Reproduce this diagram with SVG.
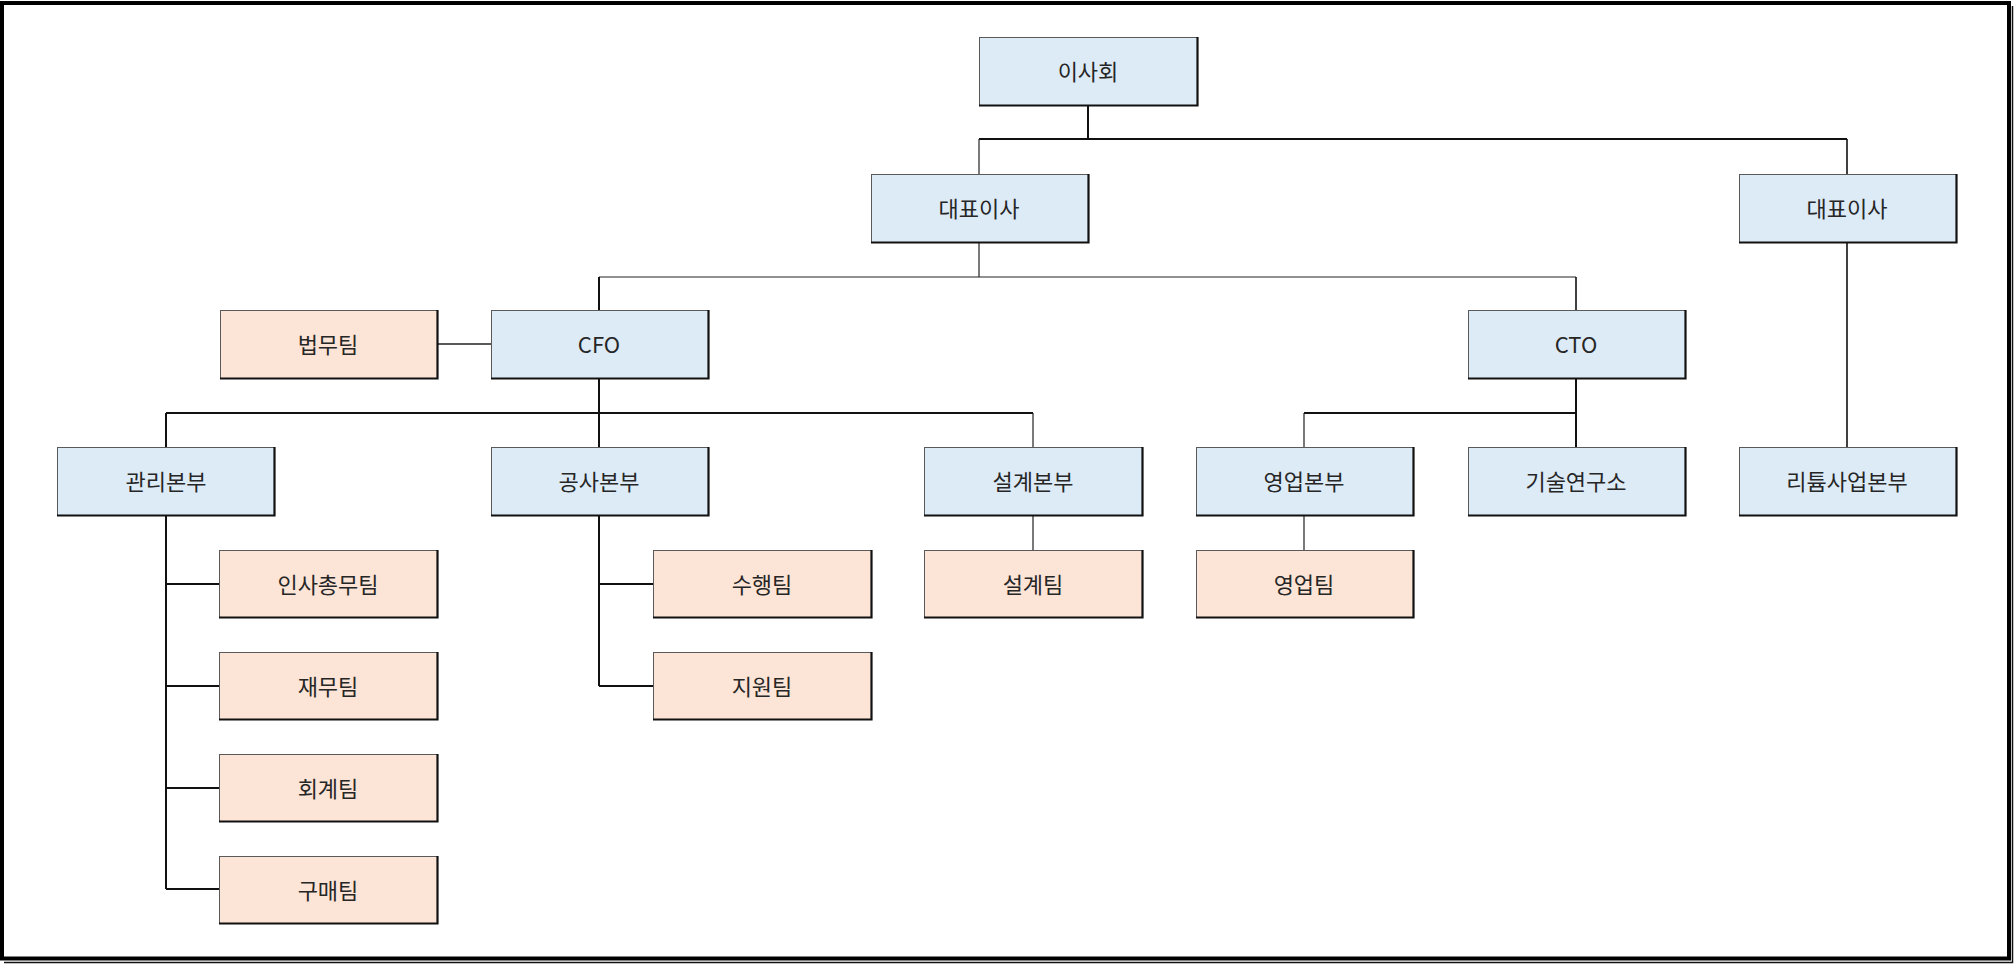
<svg xmlns="http://www.w3.org/2000/svg" width="2014" height="964" viewBox="0 0 2014 964">
  <defs>
    <style>
      .box { stroke: #5a5a5a; stroke-width: 1; }
      .blue { fill: #DDEBF7; }
      .peach { fill: #FCE4D6; }
      .shadow { fill: none; stroke: #111; stroke-width: 2.2; }
      .lbl { font-family: "Noto Sans CJK KR", "Noto Sans", "Liberation Sans", sans-serif; font-size: 22px; fill: #262626; text-anchor: middle; dominant-baseline: central; }
      .c { fill: none; stroke: #111; stroke-width: 2; }
      .t { fill: none; stroke: #222; stroke-width: 1.2; }
    </style>
  </defs>
  <rect x="0" y="0" width="2014" height="964" fill="#ffffff"/>
  <rect x="2" y="3" width="2007" height="955.5" fill="none" stroke="#000" stroke-width="4"/>
  <path d="M4 962.5 H2012.5 V6" fill="none" stroke="#111" stroke-width="1.5"/>

  <g id="connectors">
    <path class="c" d="M1088 106 V139 M979 139 H1847"/>
    <path class="t" d="M979 139 V174"/>
    <path class="c" style="stroke-width:1.6" d="M1847 139 V174"/>
    <path class="t" d="M979 242 V277 M599 277 H1576"/>
    <path class="c" d="M599 277 V310"/>
    <path class="c" style="stroke-width:1.6" d="M1576 277 V310"/>
    <path class="t" style="stroke-width:1.4" d="M437 344 H491"/>
    <path class="c" d="M599 379 V413 M166 413 H1033 M166 413 V447 M599 413 V447"/>
    <path class="t" d="M1033 413 V447"/>
    <path class="c" d="M1576 379 V447 M1304 413 H1576"/>
    <path class="t" d="M1304 413 V447 M1304 515 V550 M1033 515 V550"/>
    <path class="c" style="stroke-width:1.6" d="M1847 242 V447"/>
    <path class="c" d="M166 515 V889 M166 584 H219 M166 686 H219 M166 788 H219 M166 889 H219"/>
    <path class="c" d="M599 515 V686 M599 584 H653 M599 686 H653"/>
  </g>

  <g id="n-board">
    <rect class="box blue" x="979.5" y="37.5" width="218" height="68"/>
    <path class="shadow" d="M1197.5 37 V105.5 H979"/>
    <text class="lbl" x="1088" y="69.5">이사회</text>
  </g>
  <g id="n-ceo1">
    <rect class="box blue" x="871.5" y="174.5" width="217" height="68"/>
    <path class="shadow" d="M1088.5 174 V242.5 H871"/>
    <text class="lbl" x="979" y="206.5">대표이사</text>
  </g>
  <g id="n-ceo2">
    <rect class="box blue" x="1739.5" y="174.5" width="217" height="68"/>
    <path class="shadow" d="M1956.5 174 V242.5 H1739"/>
    <text class="lbl" x="1847" y="206.5">대표이사</text>
  </g>
  <g id="n-legal">
    <rect class="box peach" x="220.5" y="310.5" width="217" height="68"/>
    <path class="shadow" d="M437.5 310 V378.5 H220"/>
    <text class="lbl" x="328" y="342.5">법무팀</text>
  </g>
  <g id="n-cfo">
    <rect class="box blue" x="491.5" y="310.5" width="217" height="68"/>
    <path class="shadow" d="M708.5 310 V378.5 H491"/>
    <text class="lbl" x="599" y="342.5">CFO</text>
  </g>
  <g id="n-cto">
    <rect class="box blue" x="1468.5" y="310.5" width="217" height="68"/>
    <path class="shadow" d="M1685.5 310 V378.5 H1468"/>
    <text class="lbl" x="1576" y="342.5">CTO</text>
  </g>
  <g id="n-mgmt">
    <rect class="box blue" x="57.5" y="447.5" width="217" height="68"/>
    <path class="shadow" d="M274.5 447 V515.5 H57"/>
    <text class="lbl" x="166" y="479.5">관리본부</text>
  </g>
  <g id="n-const">
    <rect class="box blue" x="491.5" y="447.5" width="217" height="68"/>
    <path class="shadow" d="M708.5 447 V515.5 H491"/>
    <text class="lbl" x="599" y="479.5">공사본부</text>
  </g>
  <g id="n-design">
    <rect class="box blue" x="924.5" y="447.5" width="218" height="68"/>
    <path class="shadow" d="M1142.5 447 V515.5 H924"/>
    <text class="lbl" x="1033" y="479.5">설계본부</text>
  </g>
  <g id="n-sales">
    <rect class="box blue" x="1196.5" y="447.5" width="217" height="68"/>
    <path class="shadow" d="M1413.5 447 V515.5 H1196"/>
    <text class="lbl" x="1304" y="479.5">영업본부</text>
  </g>
  <g id="n-rnd">
    <rect class="box blue" x="1468.5" y="447.5" width="217" height="68"/>
    <path class="shadow" d="M1685.5 447 V515.5 H1468"/>
    <text class="lbl" x="1576" y="479.5">기술연구소</text>
  </g>
  <g id="n-lithium">
    <rect class="box blue" x="1739.5" y="447.5" width="217" height="68"/>
    <path class="shadow" d="M1956.5 447 V515.5 H1739"/>
    <text class="lbl" x="1847" y="479.5">리튬사업본부</text>
  </g>
  <g id="n-hr">
    <rect class="box peach" x="219.5" y="550.5" width="218" height="67"/>
    <path class="shadow" d="M437.5 550 V617.5 H219"/>
    <text class="lbl" x="328" y="582.5">인사총무팀</text>
  </g>
  <g id="n-fin">
    <rect class="box peach" x="219.5" y="652.5" width="218" height="67"/>
    <path class="shadow" d="M437.5 652 V719.5 H219"/>
    <text class="lbl" x="328" y="684.5">재무팀</text>
  </g>
  <g id="n-acct">
    <rect class="box peach" x="219.5" y="754.5" width="218" height="67"/>
    <path class="shadow" d="M437.5 754 V821.5 H219"/>
    <text class="lbl" x="328" y="786.5">회계팀</text>
  </g>
  <g id="n-purch">
    <rect class="box peach" x="219.5" y="856.5" width="218" height="67"/>
    <path class="shadow" d="M437.5 856 V923.5 H219"/>
    <text class="lbl" x="328" y="888.5">구매팀</text>
  </g>
  <g id="n-exec">
    <rect class="box peach" x="653.5" y="550.5" width="218" height="67"/>
    <path class="shadow" d="M871.5 550 V617.5 H653"/>
    <text class="lbl" x="762" y="582.5">수행팀</text>
  </g>
  <g id="n-support">
    <rect class="box peach" x="653.5" y="652.5" width="218" height="67"/>
    <path class="shadow" d="M871.5 652 V719.5 H653"/>
    <text class="lbl" x="762" y="684.5">지원팀</text>
  </g>
  <g id="n-designteam">
    <rect class="box peach" x="924.5" y="550.5" width="218" height="67"/>
    <path class="shadow" d="M1142.5 550 V617.5 H924"/>
    <text class="lbl" x="1033" y="582.5">설계팀</text>
  </g>
  <g id="n-salesteam">
    <rect class="box peach" x="1196.5" y="550.5" width="217" height="67"/>
    <path class="shadow" d="M1413.5 550 V617.5 H1196"/>
    <text class="lbl" x="1304" y="582.5">영업팀</text>
  </g>
</svg>
